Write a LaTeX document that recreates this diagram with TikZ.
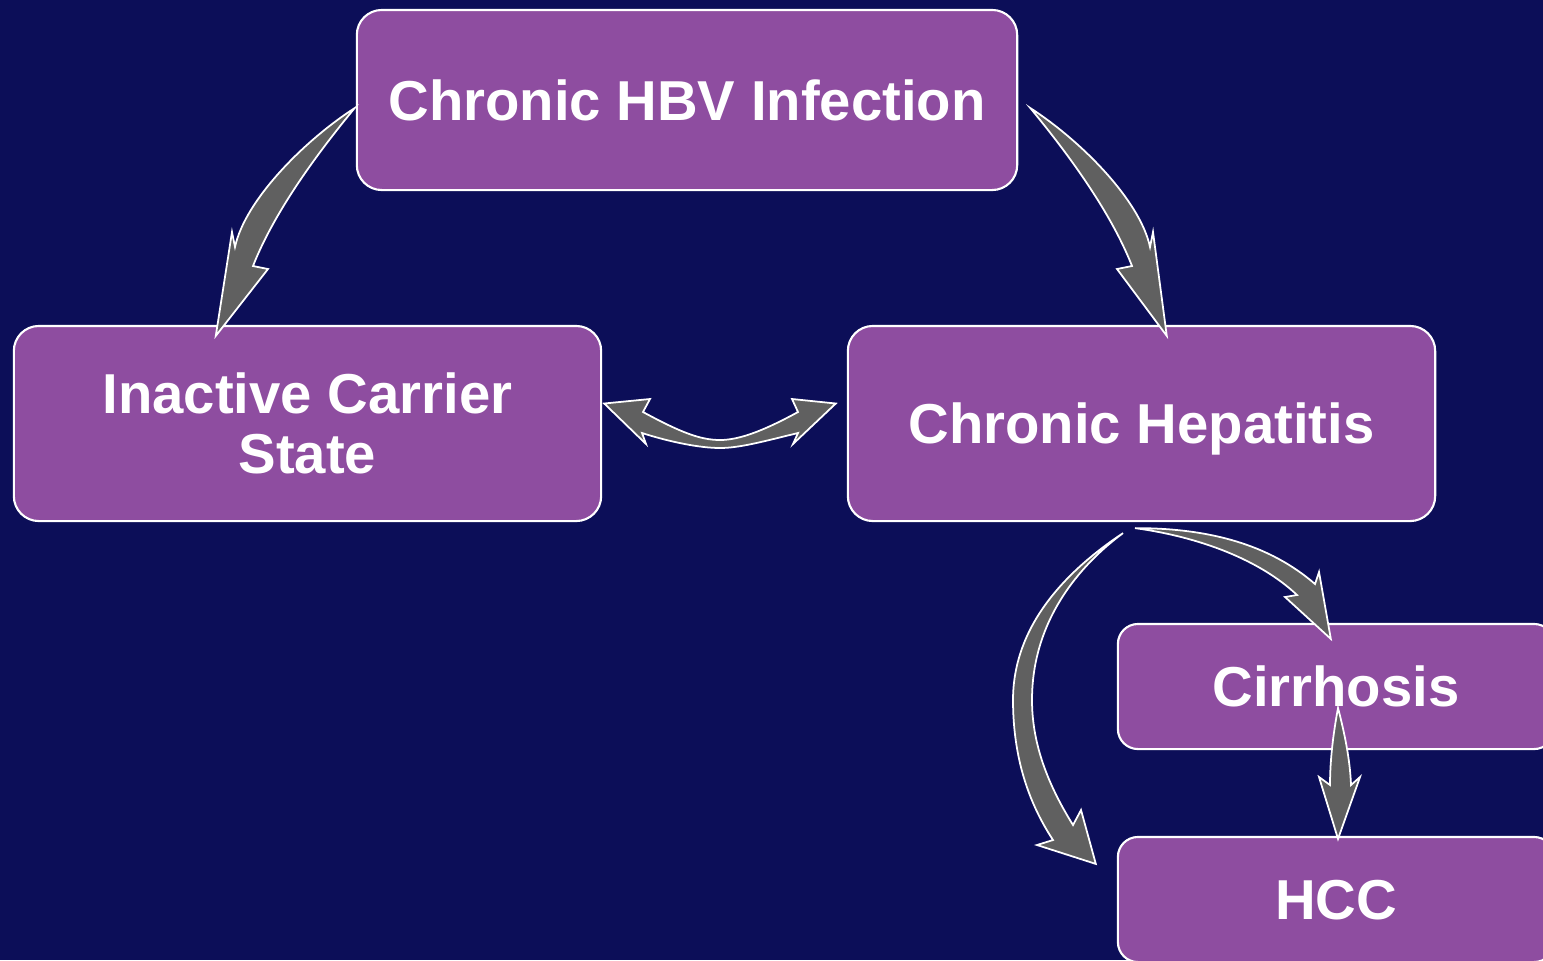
\documentclass[tikz,border=0pt]{standalone}
\usepackage{fontspec}
\setmainfont{Liberation Sans}
\usetikzlibrary{calc}

\definecolor{navy}{RGB}{12,14,88}
\definecolor{plum}{RGB}{142,77,160}
\definecolor{arrowgray}{RGB}{96,96,96}

\tikzset{
  stagebox/.style={draw=white, line width=0.6pt, fill=plum, rounded corners=0.25cm,
    text=white, font=\bfseries\fontsize{16}{17}\selectfont, align=center, inner sep=0pt},
  bigbox/.style={stagebox, minimum width=5.87cm, minimum height=1.95cm},
  smallbox/.style={stagebox, minimum width=4.36cm, minimum height=1.25cm, rounded corners=0.2cm, text depth=0pt},
  fatarrow/.style={draw=white, line width=0.5pt, fill=arrowgray, line join=miter}
}

\begin{document}
\begin{tikzpicture}[x=0.01cm, y=-0.01cm]
	\useasboundingbox (0,0) rectangle (1543,960);
	\fill[navy] (0,0) rectangle (1543,960);
	\clip (0,0) rectangle (1543,960);

	% stages
	\node[stagebox, minimum width=6.6cm, minimum height=1.8cm, text depth=0pt] (hbv) at (687,100) {Chronic HBV Infection};
	\node[bigbox] (carrier) at (307.5,423.5) {Inactive Carrier\\State};
	\node[bigbox, text depth=0pt] (hepatitis) at (1141.5,423.5) {Chronic Hepatitis};
	\node[smallbox] (cirrhosis) at (1336,686.5) {Cirrhosis};
	\node[smallbox] (hcc) at (1336,899.5) {HCC};

	% hbv -> carrier
	\draw[fatarrow] ($(hbv.west)+(-1,8)$) .. controls (305,140) and (245,200) .. (235,247)
		-- (232,232) -- ($(carrier.north west)+(203,11)$) -- (268,269) -- (253,266)
		.. controls (275,210) and (320,150) .. cycle;

	% hbv -> hepatitis
	\draw[fatarrow] ($(hbv.east)+(12,8)$) .. controls (1080,140) and (1140,200) .. (1150,247)
		-- (1153,232) -- ($(hepatitis.north west)+(320,11)$) -- (1117,269) -- (1132,266)
		.. controls (1110,210) and (1065,150) .. cycle;

	% carrier <-> hepatitis
	\draw[fatarrow] ($(carrier.east)+(2,-20)$) -- (650,399) -- (643,412)
		.. controls (680,432) and (700,440) .. (720,440)
		.. controls (740,440) and (765,430) .. (798,412) -- (792,399)
		-- ($(hepatitis.west)+(-11,-20)$) -- (793,444) -- (798,433)
		.. controls (765,441) and (740,448) .. (720,448)
		.. controls (700,448) and (670,442) .. (642,433) -- (646,444) -- cycle;

	% hepatitis -> hcc
	\draw[fatarrow] ($(hepatitis.south)+(-18.5,11)$) .. controls (1060,575) and (1013,630) .. (1013,700)
		.. controls (1013,760) and (1030,805) .. (1053,840) -- (1037,845)
		-- ($(hcc.north west)+(-21,28)$) -- (1081,810) -- (1073,825)
		.. controls (1045,780) and (1032,740) .. (1032,700)
		.. controls (1032,620) and (1080,565) .. cycle;

	% hepatitis -> cirrhosis
	\draw[fatarrow] ($(hepatitis.south)+(-6.5,6)$) .. controls (1210,528) and (1270,545) .. (1315,584)
		-- (1319,572) -- ($(cirrhosis.north west)+(214,16)$) -- (1285,597) -- (1297,595)
		.. controls (1260,560) and (1200,537) .. cycle;

	% cirrhosis -> hcc
	\draw[fatarrow] ($(cirrhosis.center)+(2,21.5)$) .. controls (1332,740) and (1330,765) .. (1330,785)
		-- (1319,777) -- ($(hcc.north)+(2,3)$) -- (1360,777) -- (1351,785)
		.. controls (1350,760) and (1345,735) .. cycle;
\end{tikzpicture}
\end{document}
